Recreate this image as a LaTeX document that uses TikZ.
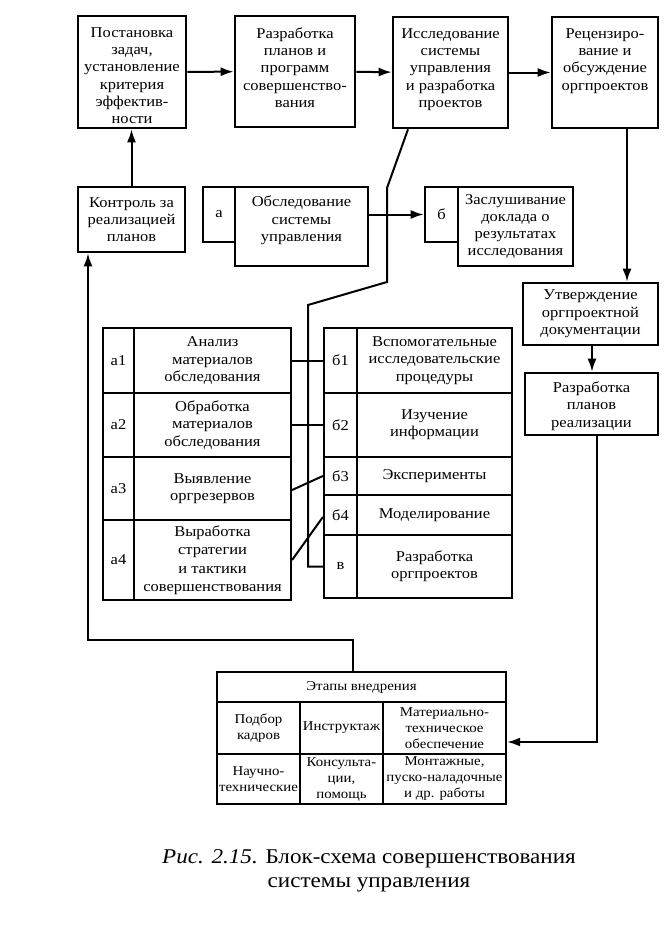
\documentclass[tikz,border=0pt]{standalone}
\usepackage{fontspec}
\setmainfont[FakeStretch=1.1]{Liberation Serif}
\usetikzlibrary{arrows.meta,fit}
\newcommand\fsA{\fontsize{15}{17.3}\selectfont}
\newcommand\fsB{\fontsize{13.5}{16}\selectfont}
\newcommand\fsC{\fontsize{21}{23.5}\selectfont}
\begin{document}
\begin{tikzpicture}[x=1pt,y=-1pt,
  box/.style={draw, line width=2.6pt, inner sep=0pt},
  cell/.style={draw, line width=2.2pt, inner sep=0pt},
  txt/.style={align=center, inner sep=0pt, font=\fsA},
  stxt/.style={align=center, inner sep=0pt, font=\fsB},
  ln/.style={line width=2pt},
  arr/.style={ln, -{Latex[length=13pt,width=9pt]}},
]
\useasboundingbox (0,0) rectangle (664,926);

% top row
\node[box, fit={(78,16) (186,128)}] (p1) {};
\node[txt, anchor=north] (p1t) at ([yshift=-12.5pt]p1.north) {Постановка\\задач,\\установление\\критерия\\эффектив-\\ности};
\node[box, fit={(235,16) (355,127)}] (p2) {};
\node[txt, anchor=north] (p2t) at ([yshift=-12.5pt]p2.north) {Разработка\\планов и\\программ\\совершенство-\\вания};
\node[box, fit={(393,17) (508,128)}] (p3) {};
\node[txt, anchor=north] (p3t) at ([yshift=-12.5pt]p3.north) {Исследование\\системы\\управления\\и разработка\\проектов};
\node[box, fit={(552,17) (658,128)}] (p4) {};
\node[txt, anchor=north] (p4t) at ([yshift=-12.5pt]p4.north) {Рецензиро-\\вание и\\обсуждение\\оргпроектов};

% second row
\node[box, fit={(78,187) (185,252)}] (kt) {};
\node[txt] (ktt) at (kt.center) {Контроль за\\реализацией\\планов};
\node[box, fit={(203,187) (235,242)}] (la) {};
\node[txt] (lat) at (la.center) {а};
\node[box, fit={(235,187) (368,266)}] (ob) {};
\node[txt] (obt) at ([yshift=6pt]ob.center) {Обследование\\системы\\управления};
\node[box, fit={(425,187) (458,242)}] (lb) {};
\node[txt] (lbt) at (lb.center) {б};
\node[box, fit={(458,187) (573,266)}] (zs) {};
\node[txt] (zst) at (zs.center) {Заслушивание\\доклада о\\результатах\\исследования};

% right column
\node[box, fit={(523,283) (658,345)}] (ut) {};
\node[txt] (utt) at (ut.center) {Утверждение\\оргпроектной\\документации};
\node[box, fit={(525,373) (658,435)}] (rp) {};
\node[txt] (rpt) at ([yshift=-2pt]rp.center) {Разработка\\планов\\реализации};

% left table
\node[cell, fit={(103,328) (134,393)}] (a1l) {};
\node[cell, fit={(134,328) (291,393)}] (a1) {};
\node[cell, fit={(103,393) (134,457)}] (a2l) {};
\node[cell, fit={(134,393) (291,457)}] (a2) {};
\node[cell, fit={(103,457) (134,520)}] (a3l) {};
\node[cell, fit={(134,457) (291,520)}] (a3) {};
\node[cell, fit={(103,520) (134,600)}] (a4l) {};
\node[cell, fit={(134,520) (291,600)}] (a4) {};
\node[txt] (a1lt) at (a1l.center) {а1};
\node[txt] (a2lt) at (a2l.center) {а2};
\node[txt] (a3lt) at (a3l.center) {а3};
\node[txt] (a4lt) at (a4l.center) {а4};
\node[txt] (a1t) at (a1.center) {Анализ\\материалов\\обследования};
\node[txt] (a2t) at (a2.center) {Обработка\\материалов\\обследования};
\node[txt] (a3t) at (a3.center) {Выявление\\оргрезервов};
\node[txt, font=\fontsize{15}{18.5}\selectfont] (a4t) at (a4.center) {Выработка\\стратегии\\и тактики\\совершенствования};

% right table
\node[cell, fit={(324,328) (357,393)}] (b1l) {};
\node[cell, fit={(357,328) (512,393)}] (b1) {};
\node[cell, fit={(324,393) (357,457)}] (b2l) {};
\node[cell, fit={(357,393) (512,457)}] (b2) {};
\node[cell, fit={(324,457) (357,495)}] (b3l) {};
\node[cell, fit={(357,457) (512,495)}] (b3) {};
\node[cell, fit={(324,495) (357,535)}] (b4l) {};
\node[cell, fit={(357,495) (512,535)}] (b4) {};
\node[cell, fit={(324,535) (357,598)}] (vl) {};
\node[cell, fit={(357,535) (512,598)}] (v) {};
\node[txt] (b1lt) at (b1l.center) {б1};
\node[txt] (b2lt) at (b2l.center) {б2};
\node[txt] (b3lt) at (b3l.center) {б3};
\node[txt] (b4lt) at (b4l.center) {б4};
\node[txt] (vlt) at (vl.center) {в};
\node[txt] (b1t) at (b1.center) {Вспомогательные\\исследовательские\\процедуры};
\node[txt] (b2t) at (b2.center) {Изучение\\информации};
\node[txt] (b3t) at (b3.center) {Эксперименты};
\node[txt] (b4t) at (b4.center) {Моделирование};
\node[txt] (vt) at (v.center) {Разработка\\оргпроектов};

% stages table
\node[cell, fit={(217,672) (506,702)}] (e0) {};
\node[cell, fit={(217,702) (300,754)}] (e11) {};
\node[cell, fit={(300,702) (383,754)}] (e12) {};
\node[cell, fit={(383,702) (506,754)}] (e13) {};
\node[cell, fit={(217,754) (300,804)}] (e21) {};
\node[cell, fit={(300,754) (383,804)}] (e22) {};
\node[cell, fit={(383,754) (506,804)}] (e23) {};
\node[stxt] (e0t) at (e0.center) {Этапы внедрения};
\node[stxt] (e11t) at (e11.center) {Подбор\\кадров};
\node[stxt] (e12t) at (e12.center) {Инструктаж};
\node[stxt] (e13t) at (e13.center) {Материально-\\техническое\\обеспечение};
\node[stxt] (e21t) at (e21.center) {Научно-\\технические};
\node[stxt] (e22t) at (e22.center) {Консульта-\\ции,\\помощь};
\node[stxt] (e23t) at (e23.center) {Монтажные,\\пуско-наладочные\\и др. работы};

% caption
\node[align=center, inner sep=0pt, font=\fsC] (cap) at (369,871) {\textit{Рис. 2.15.} Блок-схема совершенствования\\системы управления};

% connectors
\draw[arr] (p1) -- (p2);
\draw[arr] (p2) -- (p3);
\draw[arr] (p3) -- (p4);
\draw[arr] (kt.north) -- (kt.north |- p1.south);
\draw[arr] (ob.east |- lb.west) -- (lb.west);
\draw[arr] ([xshift=22pt]p4.south) -- ([xshift=22pt]p4.south |- ut.north);
\draw[arr] ([xshift=1.5pt]ut.south) -- ([xshift=1.5pt]ut.south |- rp.north);
\draw[arr] ([xshift=5.5pt]rp.south) |- ([yshift=-14pt]e13.east);

\coordinate (q1) at (387,188);
\coordinate (q2) at (387,282);
\coordinate (q3) at (308,305);
\draw[ln] ([xshift=-42.5pt]p3.south) -- (q1) -- (q2) -- (q3) -- (q3 |- vl.west) -- (vl.west);

\draw[ln] (a1.east) -- (b1l.west);
\draw[ln] (a2.east) -- (b2l.west);
\draw[ln] ([yshift=-1.5pt]a3.east) -- (b3l.west);
\draw[ln] (a4.east) -- ([yshift=-2pt]b4l.west);

\coordinate (q4) at (88,640);
\draw[arr] ([xshift=-8.5pt]e0.north) |- (q4) -- (q4 |- kt.south);
\end{tikzpicture}
\end{document}
